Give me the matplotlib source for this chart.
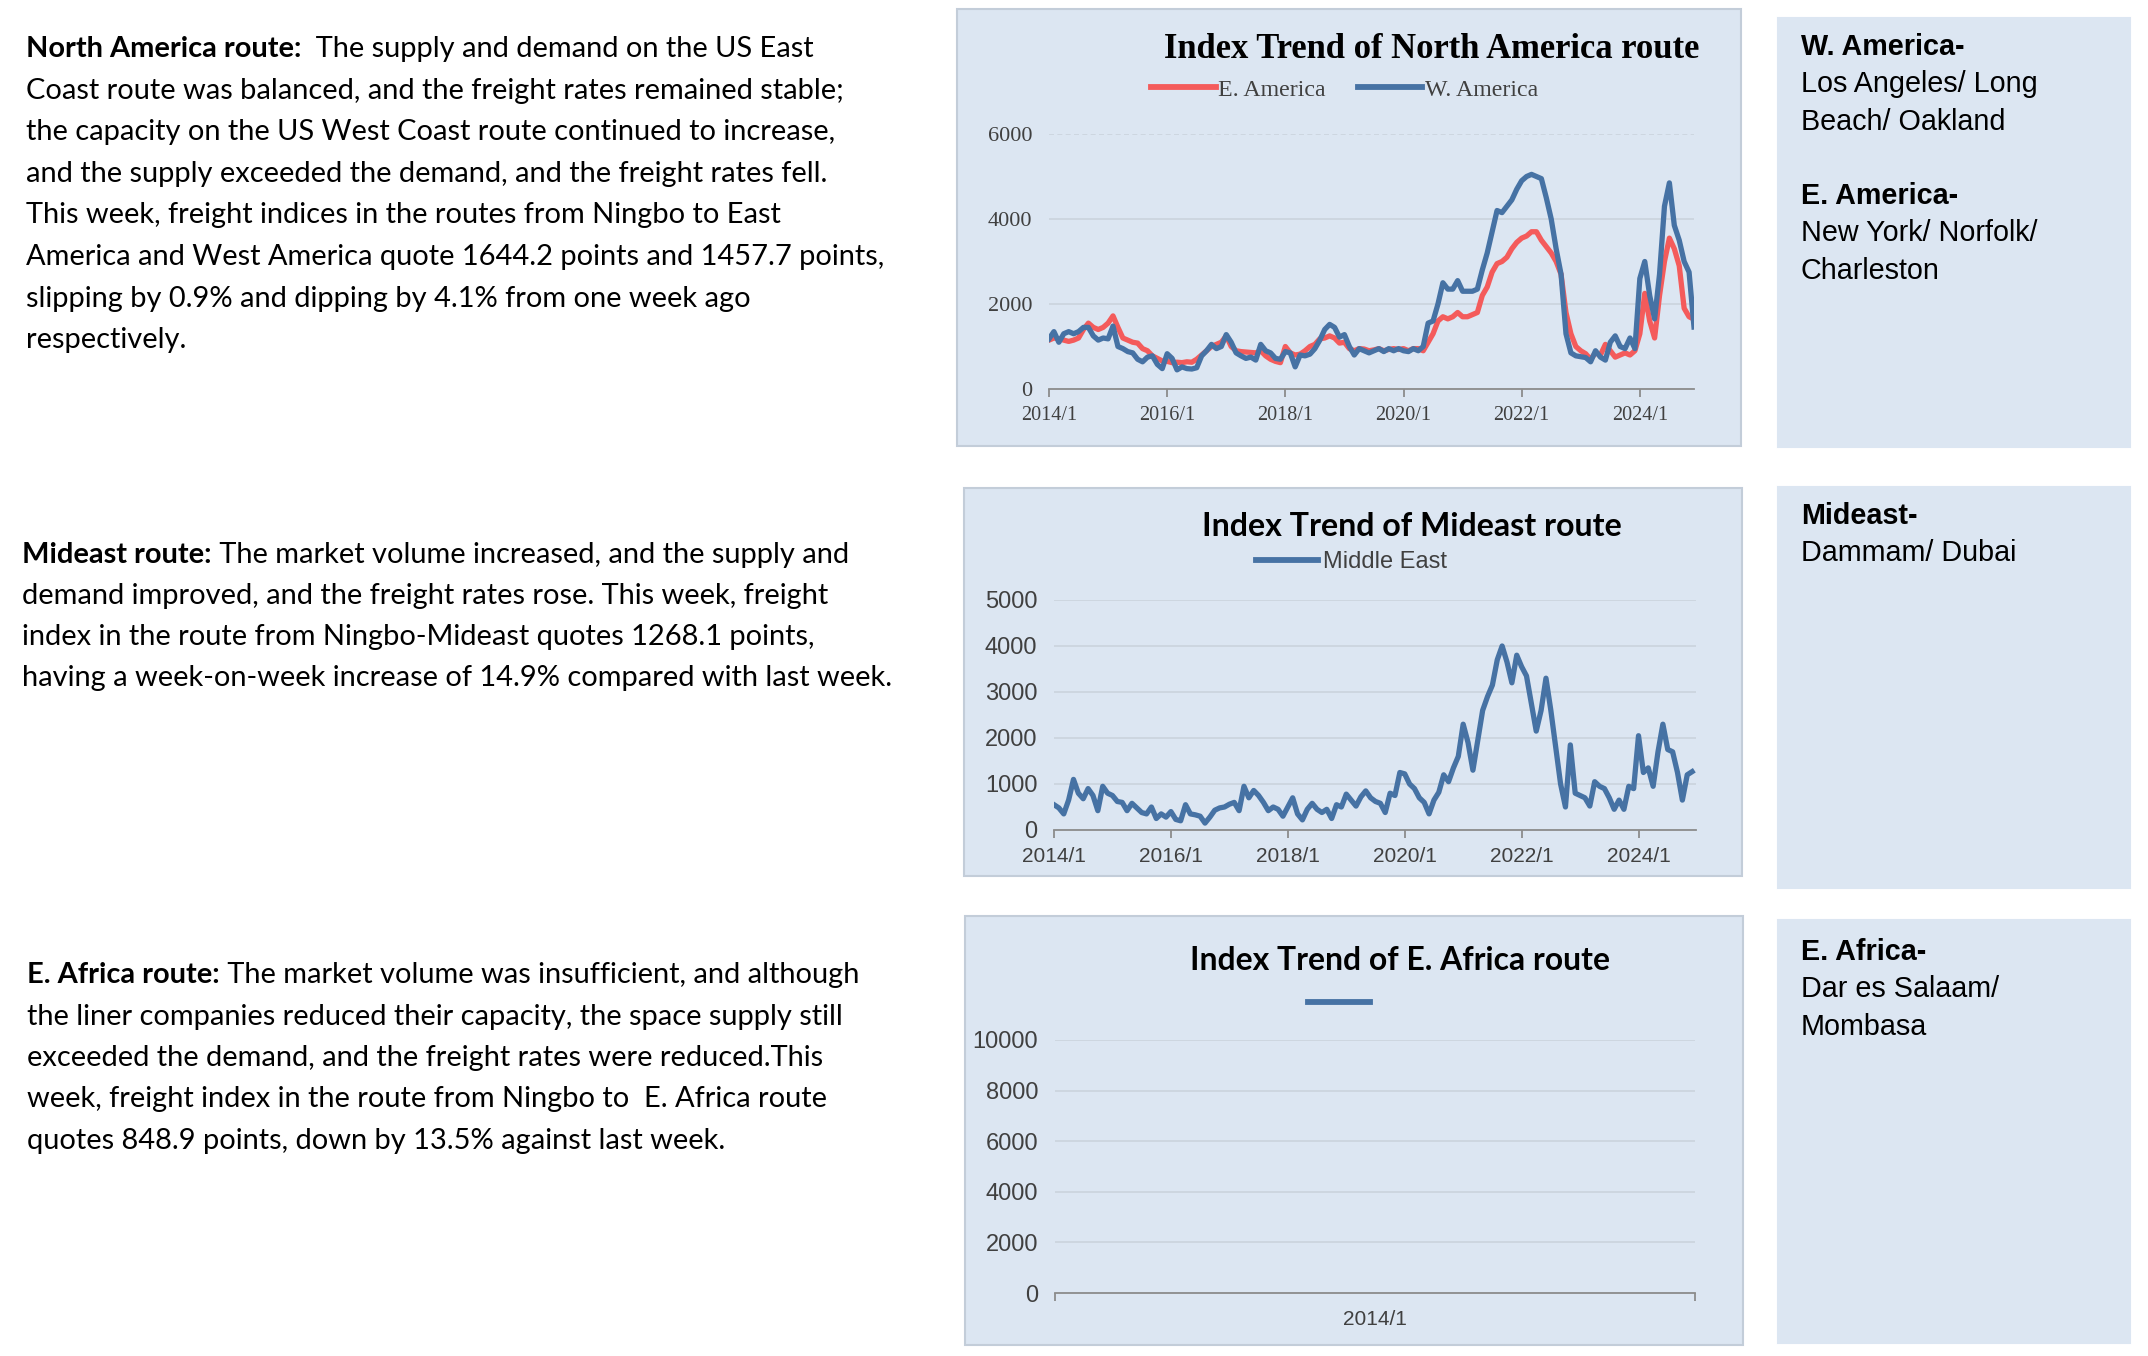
import matplotlib
matplotlib.use('Agg')
import matplotlib.pyplot as plt
from matplotlib.patches import Rectangle

W, H, DPI = 2148, 1356, 100

# ---------------- data ----------------
years = list(range(2014, 2025))
month_labels = [f"{y}/{m}" for y in years for m in range(1, 13)][:132]
tick_labels = ['2014/1', '2016/1', '2018/1', '2020/1', '2022/1', '2024/1']

e_america = [
    1150, 1200, 1180, 1150, 1120, 1150, 1200, 1400, 1550, 1450, 1400, 1450,
    1550, 1720, 1450, 1200, 1150, 1100, 1080, 950, 900, 780, 720, 660,
    650, 620, 630, 620, 640, 630, 700, 800, 900, 1000, 1050, 1100,
    1250, 1000, 900, 880, 870, 860, 850, 900, 780, 700, 650, 620,
    1000, 850, 800, 820, 900, 1000, 1050, 1180, 1200, 1250, 1200, 1080,
    1100, 950, 900, 950, 940, 900, 920, 950, 900, 930, 950, 930,
    950, 900, 950, 950, 900, 1100, 1300, 1600, 1700, 1650, 1700, 1800,
    1700, 1700, 1750, 1800, 2200, 2400, 2750, 2950, 3000, 3100, 3300, 3450,
    3550, 3600, 3700, 3700, 3500, 3350, 3200, 3000, 2700, 1800, 1300, 1000,
    900, 830, 700, 850, 800, 1050, 900, 750, 800, 850, 800, 900,
    1300, 2250, 1600, 1200, 2200, 3000, 3550, 3300, 2900, 1900, 1700, 1644.2]

w_america = [
    1180, 1350, 1100, 1300, 1350, 1300, 1350, 1450, 1450, 1250, 1150, 1200,
    1180, 1480, 1000, 950, 880, 850, 700, 640, 750, 780, 580, 480,
    830, 720, 450, 520, 480, 470, 500, 780, 900, 1050, 950, 1000,
    1280, 1100, 850, 780, 720, 750, 680, 1050, 900, 850, 720, 700,
    880, 850, 520, 800, 780, 820, 950, 1150, 1400, 1520, 1450, 1220,
    1280, 1000, 800, 950, 900, 850, 900, 950, 880, 950, 900, 950,
    900, 880, 950, 900, 1000, 1550, 1600, 2000, 2500, 2350, 2350, 2550,
    2300, 2300, 2300, 2350, 2800, 3200, 3700, 4200, 4150, 4300, 4450, 4700,
    4900, 5000, 5050, 5000, 4950, 4500, 4000, 3300, 2700, 1300, 850, 780,
    760, 740, 640, 900, 750, 680, 1100, 1250, 1000, 950, 1200, 950,
    2600, 3000, 2200, 1650, 2700, 4300, 4850, 3850, 3500, 3000, 2750, 1457.7]

middle_east = [
    550, 480, 350, 650, 1100, 800, 680, 900, 750, 420, 950, 800,
    750, 620, 600, 420, 580, 480, 380, 350, 500, 250, 350, 280,
    400, 230, 200, 550, 350, 330, 300, 150, 280, 430, 480, 500,
    560, 600, 420, 950, 700, 860, 750, 600, 420, 500, 450, 300,
    500, 700, 350, 220, 450, 580, 450, 380, 450, 250, 550, 500,
    780, 650, 520, 720, 850, 700, 620, 580, 380, 800, 750, 1250,
    1220, 1000, 900, 700, 600, 350, 650, 820, 1200, 1050, 1350, 1600,
    2300, 1900, 1300, 1950, 2600, 2900, 3150, 3700, 4000, 3650, 3200, 3800,
    3550, 3350, 2750, 2150, 2600, 3300, 2600, 1800, 1000, 500, 1850, 800,
    750, 700, 520, 1050, 950, 900, 700, 450, 650, 450, 950, 900,
    2050, 1250, 1350, 950, 1700, 2300, 1750, 1700, 1250, 650, 1200, 1268.1]

ea_categories = ['2014/1']
e_africa = []

na_title = 'Index Trend of North America route'
me_title = 'Index Trend of Mideast route'
ea_title = 'Index Trend of E. Africa route'

na_par = [("North America route:", "  The supply and demand on the US East"),
          "Coast route was balanced, and the freight rates remained stable;",
          "the capacity on the US West Coast route continued to increase,",
          "and the supply exceeded the demand, and the freight rates fell.",
          "This week, freight indices in the routes from Ningbo to East",
          "America and West America quote 1644.2 points and 1457.7 points,",
          "slipping by 0.9% and dipping by 4.1% from one week ago",
          "respectively."]
me_par = [("Mideast route:", " The market volume increased, and the supply and"),
          "demand improved, and the freight rates rose. This week, freight",
          "index in the route from Ningbo-Mideast quotes 1268.1 points,",
          "having a week-on-week increase of 14.9% compared with last week."]
ea_par = [("E. Africa route:", " The market volume was insufficient, and although"),
          "the liner companies reduced their capacity, the space supply still",
          "exceeded the demand, and the freight rates were reduced.This",
          "week, freight index in the route from Ningbo to  E. Africa route",
          "quotes 848.9 points, down by 13.5% against last week."]

na_ports = [("W. America-", True), ("Los Angeles/ Long", False), ("Beach/ Oakland", False),
            ("E. America-", True), ("New York/ Norfolk/", False), ("Charleston", False)]
me_ports = [("Mideast-", True), ("Dammam/ Dubai", False)]
ea_ports = [("E. Africa-", True), ("Dar es Salaam/", False), ("Mombasa", False)]

# ---------------- styling ----------------
BG = '#DCE6F2'
RED = '#F45B5B'
BLUE = '#4672A4'
GRID = '#CBD3DD'
AXC = '#8C8C8C'
TXT = '#404040'
LW = 3.8

fig = plt.figure(figsize=(W / DPI, H / DPI), dpi=DPI)
fig.patch.set_facecolor('white')
renderer = fig.canvas.get_renderer()


def fx(x):
    return x / W


def fy(y):
    return 1 - y / H


def fit_size(s, family, weight, target, base=20.0):
    t = fig.text(0, 0, s, fontsize=base, family=family, weight=weight)
    w = t.get_window_extent(renderer).width
    t.remove()
    return base * target / w


def panel(x0, y0, x1, y1, edge=True):
    r = Rectangle((fx(x0), fy(y1)), fx(x1) - fx(x0), fy(y0) - fy(y1),
                  transform=fig.transFigure, facecolor=BG,
                  edgecolor='#C3CDD9' if edge else BG, lw=1.5, zorder=-5)
    fig.patches.append(r)


# panels
panel(957, 9, 1741, 446)
panel(964, 488, 1742, 876)
panel(965, 916, 1743, 1345)
panel(1778, 18, 2130, 447, edge=False)
panel(1778, 487, 2130, 888, edge=False)
panel(1778, 920, 2130, 1343, edge=False)

# ---------------- left paragraphs ----------------
PF = 'Lato'
psize = fit_size(na_par[5], PF, 'normal', 862)


def paragraph(lines, x, y0, dy):
    for i, ln in enumerate(lines):
        y = y0 + dy * i
        if isinstance(ln, tuple):
            b = fig.text(fx(x), fy(y), ln[0], fontsize=psize, family=PF,
                         weight='bold', va='center', ha='left', color='black')
            bw = b.get_window_extent(renderer).width
            fig.text(fx(x + bw), fy(y), ln[1], fontsize=psize, family=PF,
                     va='center', ha='left', color='black')
        else:
            fig.text(fx(x), fy(y), ln, fontsize=psize, family=PF,
                     va='center', ha='left', color='black')


paragraph(na_par, 26, 49, 41.6)
paragraph(me_par, 22, 555, 41.0)
paragraph(ea_par, 27, 975, 41.5)

# ---------------- right boxes ----------------
RF = 'Liberation Sans'
rsize = fit_size("Los Angeles/ Long", RF, 'normal', 236)


def ports(items, x, ys):
    for (s, bold), y in zip(items, ys):
        fig.text(fx(x), fy(y), s, fontsize=rsize, family=RF,
                 weight='bold' if bold else 'normal', va='center', ha='left', color='black')


ports(na_ports, 1801, [47, 84, 122, 196, 233, 271])
ports(me_ports, 1801, [516, 553])
ports(ea_ports, 1801, [952, 989, 1027])


# ---------------- axes helpers ----------------
def make_axes(x0, y0, x1, y1):
    ax = fig.add_axes([fx(x0), fy(y1), fx(x1) - fx(x0), fy(y0) - fy(y1)])
    ax.set_facecolor('none')
    ax.set_zorder(2)
    for s in ['top', 'right', 'left']:
        ax.spines[s].set_visible(False)
    ax.spines['bottom'].set_color(AXC)
    ax.spines['bottom'].set_linewidth(1.3)
    ax.set_axisbelow(True)
    ax.grid(axis='y', color=GRID, lw=1.2)
    ax.grid(axis='x', visible=False)
    return ax


# ---- North America ----
ax1 = make_axes(1049, 134, 1694, 389)
x_idx = list(range(len(month_labels)))
ax1.plot(x_idx, e_america, color=RED, lw=LW, label='E. America', solid_joinstyle='round')
ax1.plot(x_idx, w_america, color=BLUE, lw=LW, label='W. America', solid_joinstyle='round')
ax1.set_xlim(0, 131)
ax1.set_ylim(0, 6000)
ax1.set_yticks([0, 2000, 4000, 6000])
ax1.set_xticks([month_labels.index(t) for t in tick_labels])
ax1.set_xticklabels(tick_labels)
ax1.tick_params(axis='y', length=0, pad=12, labelsize=16, labelcolor=TXT)
ax1.tick_params(axis='x', length=6, width=1.3, color=AXC, pad=6, labelsize=14.5, labelcolor=TXT)
for lab in ax1.get_xticklabels() + ax1.get_yticklabels():
    lab.set_family('Liberation Serif')
gl = ax1.get_ygridlines()
gl[-1].set_linestyle((0, (3, 2)))
tsz = fit_size(na_title, 'Liberation Serif', 'bold', 537)
fig.text(fx(1432), fy(49), na_title, fontsize=tsz, family='Liberation Serif',
         weight='bold', ha='center', va='center', color='black')
leg1 = ax1.legend(loc='center left', bbox_to_anchor=(fx(1151), fy(90)),
                  bbox_transform=fig.transFigure, ncol=2, frameon=False,
                  prop={'family': 'Liberation Serif', 'size': 17.2},
                  handlelength=2.7, handletextpad=0.1, columnspacing=1.35,
                  borderpad=0, borderaxespad=0)
for t in leg1.get_texts():
    t.set_color(TXT)
for l in leg1.get_lines():
    l.set_linewidth(4.2)

# ---- Mideast ----
ax2 = make_axes(1054, 600, 1696, 830)
ax2.plot(x_idx, middle_east, color=BLUE, lw=LW, label='Middle East', solid_joinstyle='round')
ax2.set_xlim(0, 131.8)
ax2.set_ylim(0, 5000)
ax2.set_yticks([0, 1000, 2000, 3000, 4000, 5000])
ax2.set_xticks([month_labels.index(t) for t in tick_labels])
ax2.set_xticklabels(tick_labels)
ax2.tick_params(axis='y', length=0, pad=12, labelsize=17, labelcolor=TXT)
ax2.tick_params(axis='x', length=6, width=1.3, color=AXC, pad=6, labelsize=15, labelcolor=TXT)
for lab in ax2.get_xticklabels() + ax2.get_yticklabels():
    lab.set_family('Liberation Sans')
tsz2 = fit_size(me_title, 'Lato', 'bold', 420)
fig.text(fx(1412), fy(526), me_title, fontsize=tsz2, family='Lato',
         weight='bold', ha='center', va='center', color='black')
leg2 = ax2.legend(loc='center left', bbox_to_anchor=(fx(1256), fy(562)),
                  bbox_transform=fig.transFigure, frameon=False,
                  prop={'family': 'Liberation Sans', 'size': 17},
                  handlelength=2.63, handletextpad=0.2,
                  borderpad=0, borderaxespad=0)
for t in leg2.get_texts():
    t.set_color(TXT)
for l in leg2.get_lines():
    l.set_linewidth(4.2)

# ---- E. Africa ----
ax3 = make_axes(1055, 1040, 1695, 1293)
line3, = ax3.plot(list(range(len(e_africa))), e_africa, color=BLUE, lw=LW)
ax3.set_xlim(-0.5, len(ea_categories) - 0.5)
ax3.set_ylim(0, 10000)
ax3.set_yticks([0, 2000, 4000, 6000, 8000, 10000])
ax3.set_xticks(list(range(len(ea_categories))))
ax3.set_xticklabels(ea_categories)
ax3.set_xticks([-0.5, len(ea_categories) - 0.5], minor=True)
ax3.tick_params(axis='x', which='major', length=0, pad=12, labelsize=15, labelcolor=TXT)
ax3.tick_params(axis='x', which='minor', length=6, width=1.3, color=AXC)
ax3.tick_params(axis='y', length=0, pad=12, labelsize=17, labelcolor=TXT)
for lab in ax3.get_xticklabels() + ax3.get_yticklabels():
    lab.set_family('Liberation Sans')
tsz3 = fit_size(ea_title, 'Lato', 'bold', 420)
fig.text(fx(1400), fy(960), ea_title, fontsize=tsz3, family='Lato',
         weight='bold', ha='center', va='center', color='black')
leg3 = ax3.legend([line3], [''], loc='center left', bbox_to_anchor=(fx(1308), fy(1004)),
                  bbox_transform=fig.transFigure, frameon=False,
                  prop={'family': 'Liberation Sans', 'size': 17},
                  handlelength=2.63, handletextpad=0.0,
                  borderpad=0, borderaxespad=0)
for l in leg3.get_lines():
    l.set_linewidth(4.2)

fig.savefig('out.png', dpi=DPI, facecolor='white')
